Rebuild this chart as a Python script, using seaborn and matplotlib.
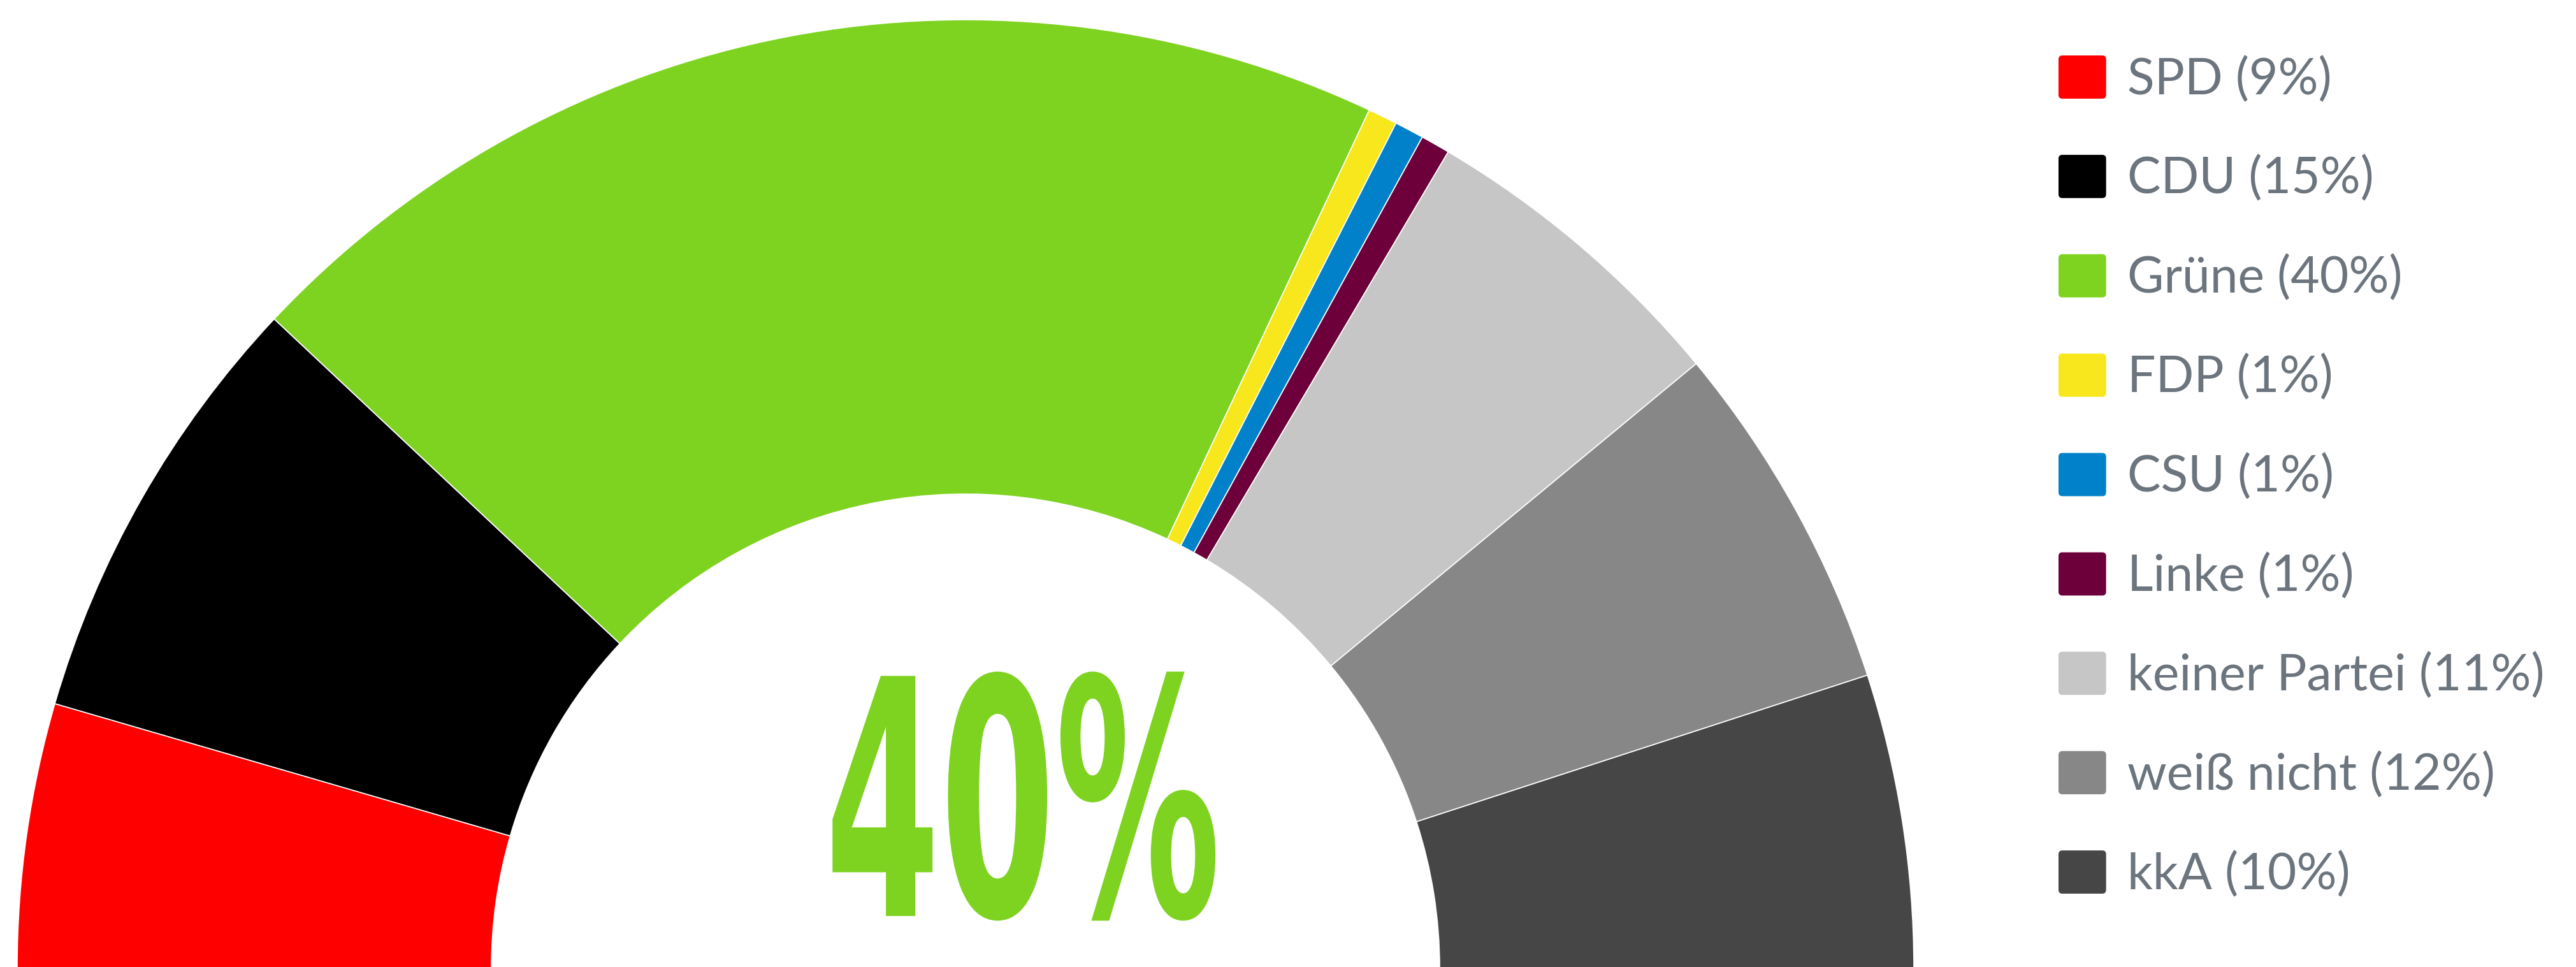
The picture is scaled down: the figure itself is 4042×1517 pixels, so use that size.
import matplotlib
matplotlib.use('Agg')
import matplotlib.pyplot as plt
from matplotlib.patches import Patch, FancyBboxPatch
from matplotlib.legend_handler import HandlerPatch
from matplotlib.patheffects import AbstractPathEffect
from matplotlib.transforms import Affine2D
import seaborn as sns

# Umfrage: Parteipräferenz (Anteile in %)
parties = ['SPD', 'CDU', 'Grüne', 'FDP', 'CSU', 'Linke', 'keiner Partei', 'weiß nicht', 'kkA']
shares = [9, 15, 40, 1, 1, 1, 11, 12, 10]
party_colors = ['#ff0000', '#000000', '#7ed321', '#f8e71c', '#0081c9',
                '#6d003b', '#c6c6c6', '#878787', '#464646']
headline = 40   # Grüne, shown big in the middle
headline_color = '#7ed321'

sns.set_theme(style='white')
plt.rcParams['font.family'] = ['Lato', 'DejaVu Sans']


class Squeeze(AbstractPathEffect):
    """Narrow the glyphs horizontally around the text anchor (condensed look)."""
    def __init__(self, sx, anchor_x):
        super().__init__()
        self.sx = sx
        self.anchor_x = anchor_x

    def draw_path(self, renderer, gc, tpath, affine, rgbFace=None):
        cx = self.anchor_x()
        squeeze = Affine2D().translate(-cx, 0).scale(self.sx, 1).translate(cx, 0)
        renderer.draw_path(gc, tpath, affine + squeeze, rgbFace)


class RoundSquare(HandlerPatch):
    # legend swatch with slightly rounded corners
    def create_artists(self, legend, orig_handle, xdescent, ydescent, width, height, fontsize, trans):
        p = FancyBboxPatch((-xdescent, -ydescent), width, height,
                           boxstyle=f'round,pad=0,rounding_size={0.08 * width}',
                           facecolor=orig_handle.get_facecolor(), edgecolor='none', transform=trans)
        return [p]


fig = plt.figure(figsize=(40.42, 15.17), dpi=100)
ax = fig.add_axes([0, 0, 1, 1])

# half donut: an invisible half is added so the parties fill 180 degrees
wedges, _ = ax.pie(shares + [sum(shares)], colors=party_colors + ['none'],
                   startangle=180, counterclock=False, radius=1488, center=(1515, -2),
                   wedgeprops=dict(width=744, edgecolor='white', linewidth=1.2), frame=True)
wedges[-1].set_visible(False)
ax.set_xlim(0, 4042)
ax.set_ylim(0, 1517)
ax.set_aspect('equal')
ax.axis('off')

# big number in the hole
tx, ty = 1605, 80
ax.text(tx, ty, f'{headline}%', ha='center', va='baseline', color=headline_color,
        fontsize=372, fontweight='bold', family=['DejaVu Sans'],
        path_effects=[Squeeze(0.502, lambda: ax.transData.transform((tx, ty))[0])])

handles = [Patch(facecolor=c, edgecolor='none') for c in party_colors]
labels = [f'{p} ({s}%)' for p, s in zip(parties, shares)]
fig.legend(handles, labels, loc='upper left', bbox_to_anchor=(3230 / 4042, 1430 / 1517),
           frameon=False, fontsize=56.6, labelcolor='#6c757d',
           handlelength=0.95, handleheight=0.95, handletextpad=0.42,
           labelspacing=1.03, borderpad=0, borderaxespad=0,
           handler_map={Patch: RoundSquare()})

fig.savefig('out.png', dpi=100)
